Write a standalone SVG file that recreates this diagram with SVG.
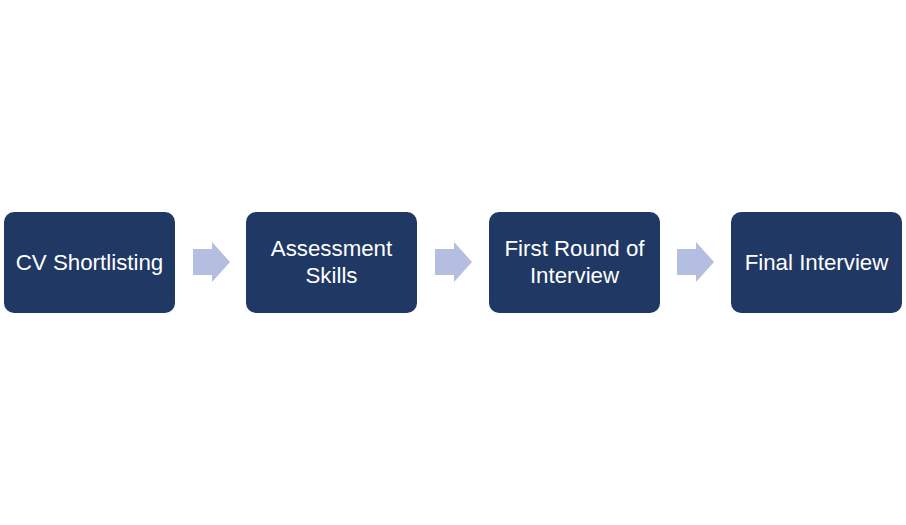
<svg xmlns="http://www.w3.org/2000/svg" width="906" height="525" viewBox="0 0 906 525">
<style>
.box{fill:#1F3864;}
.lbl{fill:#FFFFFF;font-family:"Liberation Sans","Open Sans",sans-serif;font-size:22.3px;text-anchor:middle;}
.arr{fill:#B4BEE0;}
</style>
<defs>
<path id="arrow" class="arr" d="M0,-13 H19 V-20 L37,0 L19,20 V13 H0 Z"/>
</defs>
<rect width="906" height="525" fill="#FFFFFF"/>
<g id="connectors">
<use href="#arrow" x="193" y="262"/>
<use href="#arrow" x="435" y="262"/>
<use href="#arrow" x="677" y="262"/>
</g>
<g id="node1">
<rect class="box" x="4" y="212" width="171" height="101" rx="10"/>
<text class="lbl" x="89.5" y="270">CV Shortlisting</text>
</g>
<g id="node2">
<rect class="box" x="246" y="212" width="171" height="101" rx="10"/>
<text class="lbl" x="331.5" y="256">Assessment</text>
<text class="lbl" x="331.5" y="283">Skills</text>
</g>
<g id="node3">
<rect class="box" x="489" y="212" width="171" height="101" rx="10"/>
<text class="lbl" x="574.5" y="256">First Round of</text>
<text class="lbl" x="574.5" y="283">Interview</text>
</g>
<g id="node4">
<rect class="box" x="731" y="212" width="171" height="101" rx="10"/>
<text class="lbl" x="816.5" y="270">Final Interview</text>
</g>
</svg>
